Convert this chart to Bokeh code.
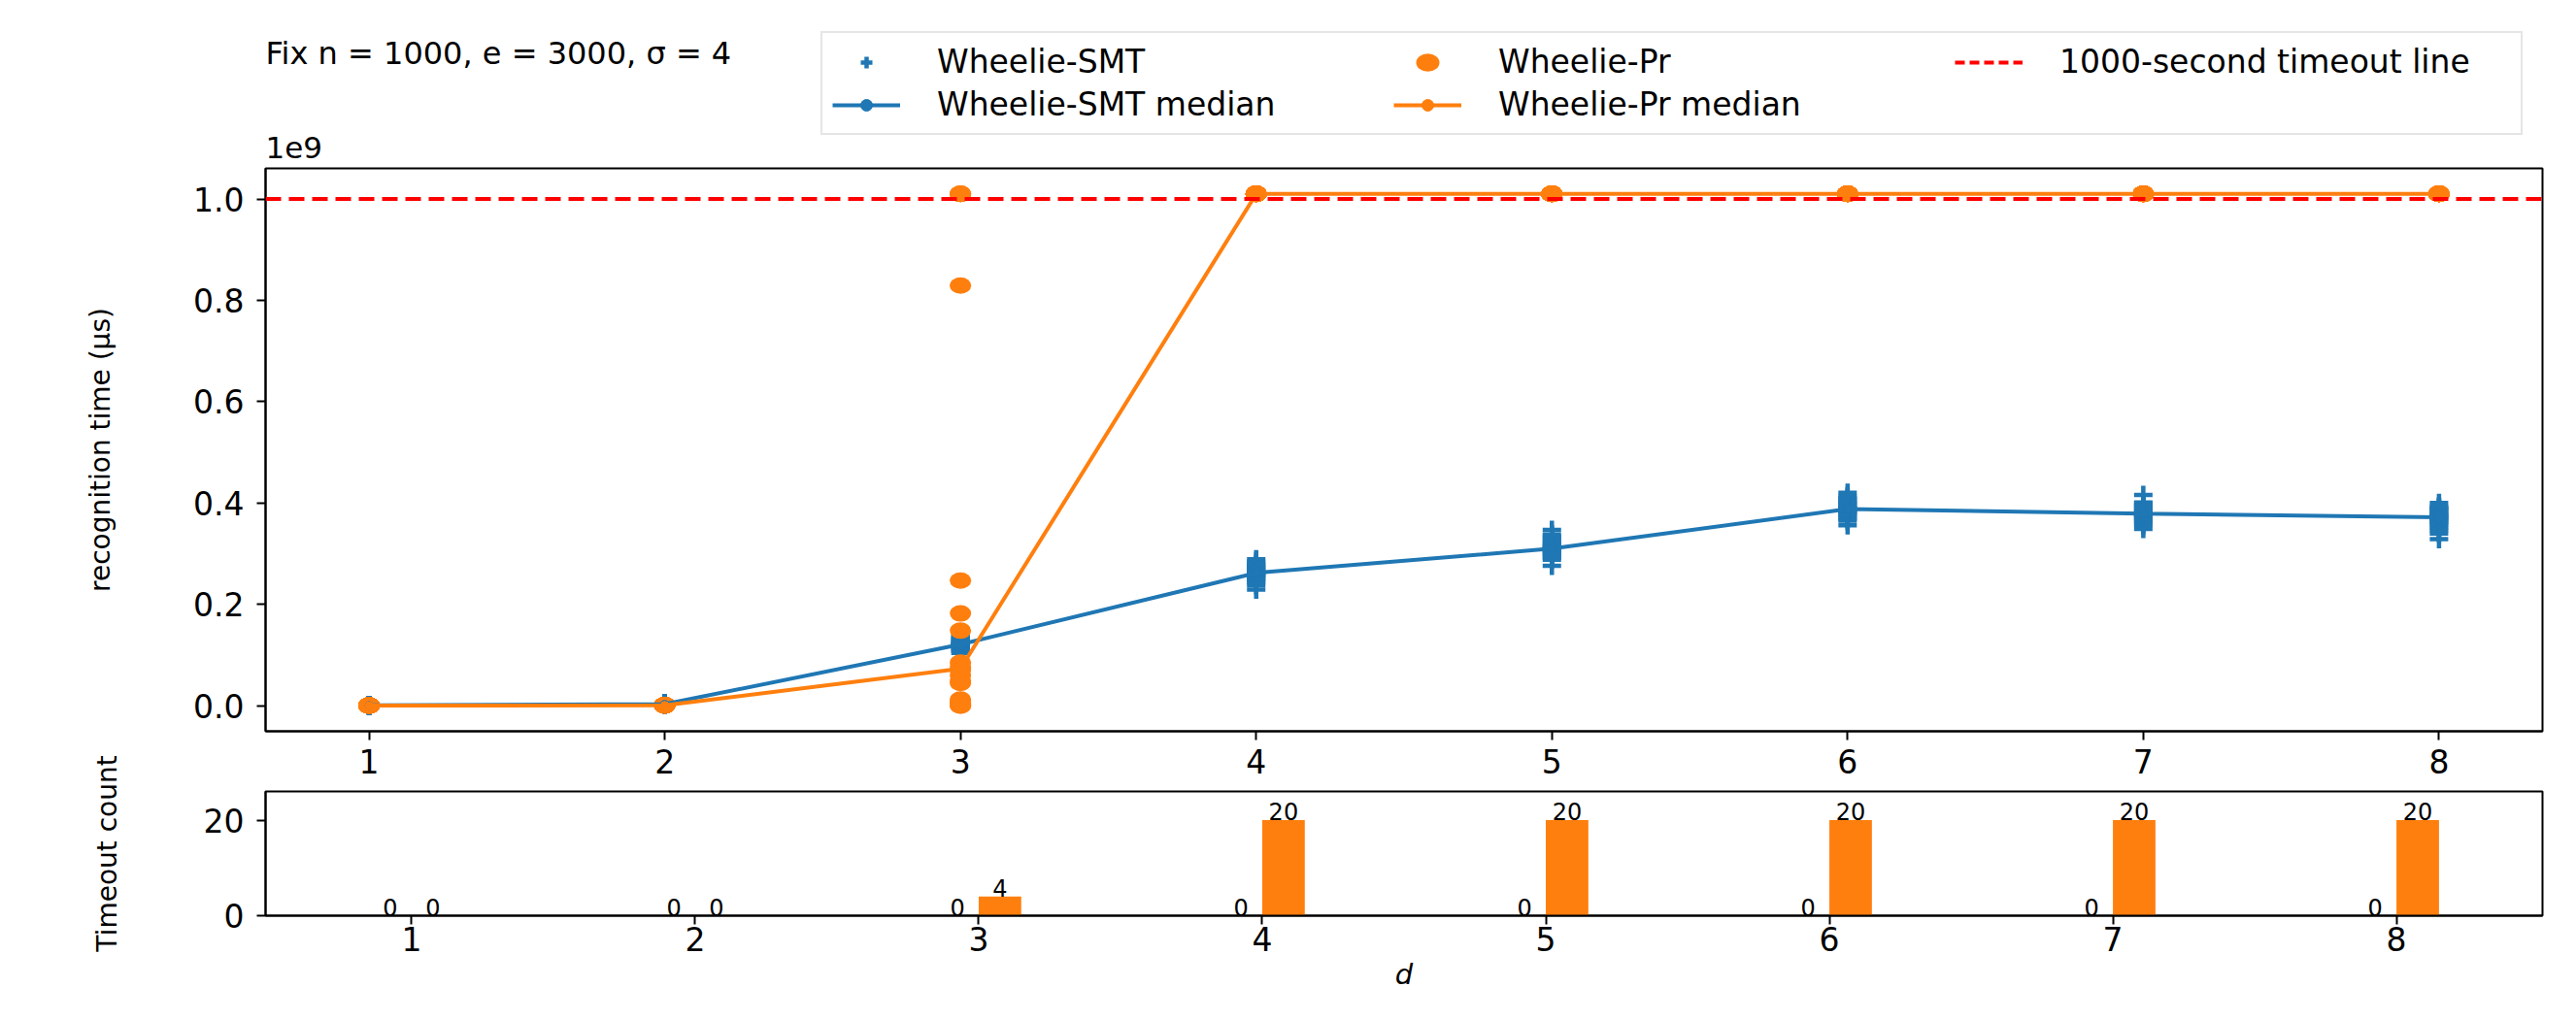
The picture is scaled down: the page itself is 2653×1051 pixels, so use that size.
import math
from bokeh.plotting import figure
from bokeh.models import (ColumnDataSource, Span, Legend, LegendItem, LabelSet,
                          FixedTicker, NumeralTickFormatter, Range1d)
from bokeh.transform import dodge
from bokeh.layouts import column, row
from bokeh.embed import file_html
from bokeh.resources import INLINE
from bokeh.core.properties import value

FONT = "DejaVu Sans"
BLUE = "#1f77b4"
ORANGE = "#ff7f0e"
RED = "#ff0000"
NAN = float("nan")

# ---------------- data (recognition time in units of 1e9 microseconds) ----------------
d_values = [1, 2, 3, 4, 5, 6, 7, 8]
timeout_line = 1.0

smt_points = {
    1: [0.0004, 0.0005, 0.0005, 0.0005, 0.0006, 0.0006, 0.0006, 0.0006, 0.0006, 0.0006,
        0.0006, 0.0006, 0.0007, 0.0007, 0.0007, 0.0007, 0.0008, 0.0008, 0.0009, 0.0010],
    2: [0.002, 0.002, 0.002, 0.003, 0.003, 0.003, 0.003, 0.003, 0.003, 0.003,
        0.003, 0.003, 0.003, 0.003, 0.004, 0.004, 0.004, 0.004, 0.005, 0.005],
    3: [0.104, 0.108, 0.111, 0.113, 0.115, 0.116, 0.118, 0.119, 0.120, 0.121,
        0.121, 0.122, 0.124, 0.125, 0.127, 0.129, 0.131, 0.133, 0.136, 0.139],
    4: [0.229, 0.238, 0.243, 0.247, 0.250, 0.253, 0.256, 0.258, 0.260, 0.261,
        0.263, 0.265, 0.267, 0.270, 0.272, 0.275, 0.278, 0.280, 0.284, 0.289],
    5: [0.276, 0.288, 0.292, 0.296, 0.299, 0.302, 0.305, 0.307, 0.309, 0.310,
        0.311, 0.313, 0.316, 0.319, 0.322, 0.326, 0.330, 0.334, 0.338, 0.347],
    6: [0.356, 0.365, 0.369, 0.373, 0.377, 0.380, 0.383, 0.385, 0.387, 0.388,
        0.389, 0.391, 0.394, 0.397, 0.400, 0.403, 0.406, 0.410, 0.413, 0.420],
    7: [0.349, 0.356, 0.360, 0.364, 0.367, 0.370, 0.373, 0.375, 0.377, 0.378,
        0.380, 0.382, 0.384, 0.387, 0.390, 0.393, 0.396, 0.399, 0.401, 0.416],
    8: [0.329, 0.340, 0.346, 0.351, 0.356, 0.360, 0.363, 0.366, 0.369, 0.371,
        0.373, 0.375, 0.377, 0.380, 0.383, 0.386, 0.389, 0.391, 0.393, 0.400],
}
pr_points = {
    1: [0.0001, 0.0001, 0.0002, 0.0002, 0.0002, 0.0002, 0.0002, 0.0002, 0.0002, 0.0002,
        0.0002, 0.0002, 0.0002, 0.0002, 0.0002, 0.0003, 0.0003, 0.0003, 0.0003, 0.0004],
    2: [0.0005, 0.0006, 0.0007, 0.0007, 0.0008, 0.0008, 0.0008, 0.0008, 0.0008, 0.0008,
        0.0008, 0.0008, 0.0008, 0.0009, 0.0009, 0.0009, 0.0010, 0.0010, 0.0011, 0.0012],
    3: [1.01, 1.01, 1.01, 1.01, 0.829, 0.247, 0.182, 0.148, 0.085, 0.076,
        0.070, 0.060, 0.049, 0.045, 0.012, 0.008, 0.004, 0.002, 0.001, 0.0],
    4: [1.01] * 20,
    5: [1.01] * 20,
    6: [1.01] * 20,
    7: [1.01] * 20,
    8: [1.01] * 20,
}
smt_median = [0.0006, 0.003, 0.121, 0.262, 0.310, 0.388, 0.379, 0.372]
pr_median = [0.0002, 0.0008, 0.073, 1.01, 1.01, 1.01, 1.01, 1.01]

timeouts_smt = [0, 0, 0, 0, 0, 0, 0, 0]
timeouts_pr = [0, 0, 4, 20, 20, 20, 20, 20]

main_y_ticks = [0.0, 0.2, 0.4, 0.6, 0.8, 1.0]
count_y_ticks = [0, 20]

title_text = "Fix n = 1000, e = 3000, σ = 4"
main_ylabel = "recognition time (μs)"
count_ylabel = "Timeout count"
xlabel = "d"
offset_text = "1e9"
legend_labels = ["Wheelie-SMT", "Wheelie-SMT median", "Wheelie-Pr",
                 "Wheelie-Pr median", "1000-second timeout line"]

# ---------------- layout constants (pixels) ----------------
TOTAL_W = 2637
STRIP_W = 140
FRAME_LEFT = 273          # frame left edge from page content origin
RIGHT_PAD = 19
HEADER_H = 172
MAIN_TOP, MAIN_FRAME_H, MAIN_BOTTOM = 1, 580, 55
Q_TOP, Q_FRAME_H, Q_BOTTOM = 7, 128, 92
MAIN_H = MAIN_TOP + MAIN_FRAME_H + MAIN_BOTTOM
Q_H = Q_TOP + Q_FRAME_H + Q_BOTTOM
PANEL_W = TOTAL_W - STRIP_W
TICK_FONT = "33px"


def flatten(points):
    xs, ys = [], []
    for d in d_values:
        for v in points[d]:
            xs.append(d)
            ys.append(v)
    return xs, ys


def style_axes(fig, xstandoff):
    fig.grid.visible = False
    fig.outline_line_color = "black"
    fig.outline_line_width = 2
    fig.outline_line_alpha = 1.0
    for ax in (fig.xaxis[0], fig.yaxis[0]):
        ax.axis_line_color = "black"
        ax.axis_line_width = 2
        ax.major_tick_line_color = "black"
        ax.major_tick_line_width = 2
        ax.major_tick_out = 9
        ax.major_tick_in = 0
        ax.minor_tick_line_color = None
        ax.major_label_text_font = FONT
        ax.major_label_text_font_size = TICK_FONT
        ax.major_label_text_color = "black"
    fig.xaxis[0].major_label_standoff = xstandoff
    fig.yaxis[0].major_label_standoff = 13


def blank(fig):
    fig.outline_line_color = None
    fig.grid.visible = False
    fig.background_fill_color = "white"
    fig.border_fill_color = "white"


# ---------------- header: title, legend, offset text ----------------
h = figure(width=TOTAL_W, height=HEADER_H, output_backend="svg", toolbar_location=None,
           x_range=Range1d(0, TOTAL_W), y_range=Range1d(0, HEADER_H),
           x_axis_type=None, y_axis_type=None, min_border=0)
blank(h)
h.text(x=[FRAME_LEFT], y=[HEADER_H - 54], text=[title_text], text_font=value(FONT),
       text_font_size="32px", text_baseline="alphabetic", text_align="left",
       text_color="black")
h.text(x=[FRAME_LEFT], y=[10], text=[offset_text], text_font=value(FONT),
       text_font_size="31px", text_baseline="bottom", text_align="left",
       text_color="black")

# legend swatches (one invisible NaN point each, so that the legend draws them)
lg_smt = h.scatter(x=[NAN], y=[NAN], marker="cross", size=19, line_width=4.5,
                   line_color=BLUE)
lg_pr = h.ellipse(x=[NAN], y=[NAN], width=22, height=17, width_units="screen",
                  height_units="screen", fill_color=ORANGE, line_color=None)
lg_smt_line = h.line(x=[NAN], y=[NAN], line_color=BLUE, line_width=4)
lg_smt_dot = h.scatter(x=[NAN], y=[NAN], marker="circle", size=9, color=BLUE)
lg_pr_line = h.line(x=[NAN], y=[NAN], line_color=ORANGE, line_width=4)
lg_pr_dot = h.scatter(x=[NAN], y=[NAN], marker="circle", size=9, color=ORANGE)
lg_to = h.line(x=[NAN], y=[NAN], line_color=RED, line_dash="10 5", line_width=4)

legend = Legend(items=[
    LegendItem(label=legend_labels[0], renderers=[lg_smt]),
    LegendItem(label=legend_labels[1], renderers=[lg_smt_line, lg_smt_dot]),
    LegendItem(label=legend_labels[2], renderers=[lg_pr]),
    LegendItem(label=legend_labels[3], renderers=[lg_pr_line, lg_pr_dot]),
    LegendItem(label=legend_labels[4], renderers=[lg_to]),
], ncols=3, orientation="vertical", location=(845, 33), margin=0, padding=10,
    spacing=5, label_standoff=38, glyph_width=70, glyph_height=30, label_height=30,
    label_width=465, label_text_font=FONT, label_text_font_size="33px",
    label_text_color="black",
    border_line_color="#cccccc", border_line_width=2, background_fill_color="white",
    background_fill_alpha=1.0)
h.add_layout(legend, "center")

# ---------------- left strip with the rotated axis titles ----------------
STRIP_H = MAIN_H + Q_H
s = figure(width=STRIP_W, height=STRIP_H, output_backend="svg", toolbar_location=None,
           x_range=Range1d(0, STRIP_W), y_range=Range1d(0, STRIP_H),
           x_axis_type=None, y_axis_type=None, min_border=0)
blank(s)
s.text(x=[102.5], y=[STRIP_H - (MAIN_TOP + MAIN_FRAME_H / 2)], text=[main_ylabel],
       angle=math.pi / 2, text_font=value(FONT), text_font_size="28px",
       text_align="center", text_baseline="middle", text_color="black")
s.text(x=[110], y=[Q_BOTTOM + Q_FRAME_H / 2], text=[count_ylabel],
       angle=math.pi / 2, text_font=value(FONT), text_font_size="28px",
       text_align="center", text_baseline="middle", text_color="black")

# ---------------- main panel ----------------
p = figure(width=PANEL_W, height=MAIN_H, output_backend="svg", toolbar_location=None,
           x_range=Range1d(0.65, 8.35), y_range=Range1d(-0.0505, 1.0605),
           min_border_left=FRAME_LEFT - STRIP_W, min_border_right=RIGHT_PAD,
           min_border_top=MAIN_TOP, min_border_bottom=MAIN_BOTTOM)
style_axes(p, 9)
p.xaxis[0].ticker = FixedTicker(ticks=d_values)
p.yaxis[0].ticker = FixedTicker(ticks=main_y_ticks)
p.yaxis[0].formatter = NumeralTickFormatter(format="0.0")

sx, sy = flatten(smt_points)
px, py = flatten(pr_points)

p.scatter(sx, sy, marker="cross", size=19, line_width=4.5, line_color=BLUE)
p.ellipse(px, py, width=22, height=17, width_units="screen", height_units="screen",
          fill_color=ORANGE, line_color=None)
p.line(d_values, smt_median, line_color=BLUE, line_width=4)
p.scatter(d_values, smt_median, marker="circle", size=8, color=BLUE)
p.line(d_values, pr_median, line_color=ORANGE, line_width=4)
p.scatter(d_values, pr_median, marker="circle", size=8, color=ORANGE)
p.add_layout(Span(location=timeout_line, dimension="width", line_color=RED,
                  line_dash="16 8", line_width=4))

# ---------------- timeout-count panel ----------------
q = figure(width=PANEL_W, height=Q_H, output_backend="svg", toolbar_location=None,
           x_range=Range1d(0.485, 8.515), y_range=Range1d(0, 26),
           min_border_left=FRAME_LEFT - STRIP_W, min_border_right=RIGHT_PAD,
           min_border_top=Q_TOP, min_border_bottom=Q_BOTTOM)
style_axes(q, 2)
q.xaxis[0].ticker = FixedTicker(ticks=d_values)
q.yaxis[0].ticker = FixedTicker(ticks=count_y_ticks)
q.xaxis[0].axis_label = xlabel
q.xaxis[0].axis_label_text_font = FONT
q.xaxis[0].axis_label_text_font_size = "29px"
q.xaxis[0].axis_label_text_font_style = "italic"
q.xaxis[0].axis_label_text_color = "black"
q.xaxis[0].axis_label_standoff = 4

src = ColumnDataSource(dict(
    d=d_values, smt=timeouts_smt, pr=timeouts_pr,
    smt_lbl=[str(v) for v in timeouts_smt], pr_lbl=[str(v) for v in timeouts_pr]))
q.vbar(x=dodge("d", -0.075), top="smt", width=0.15, fill_color=BLUE, line_color=None,
       source=src)
q.vbar(x=dodge("d", 0.075), top="pr", width=0.15, fill_color=ORANGE, line_color=None,
       source=src)
for col, lbl, off in (("smt", "smt_lbl", -0.075), ("pr", "pr_lbl", 0.075)):
    q.add_layout(LabelSet(x=dodge("d", off), y=col, text=lbl, source=src,
                          text_font=value(FONT), text_font_size="24px",
                          text_align="center", text_baseline="bottom", y_offset=0,
                          text_color="black"))

layout = column(h, row(s, column(p, q, spacing=0), spacing=0), spacing=0)
open("out.html", "w").write(file_html(layout, INLINE))
